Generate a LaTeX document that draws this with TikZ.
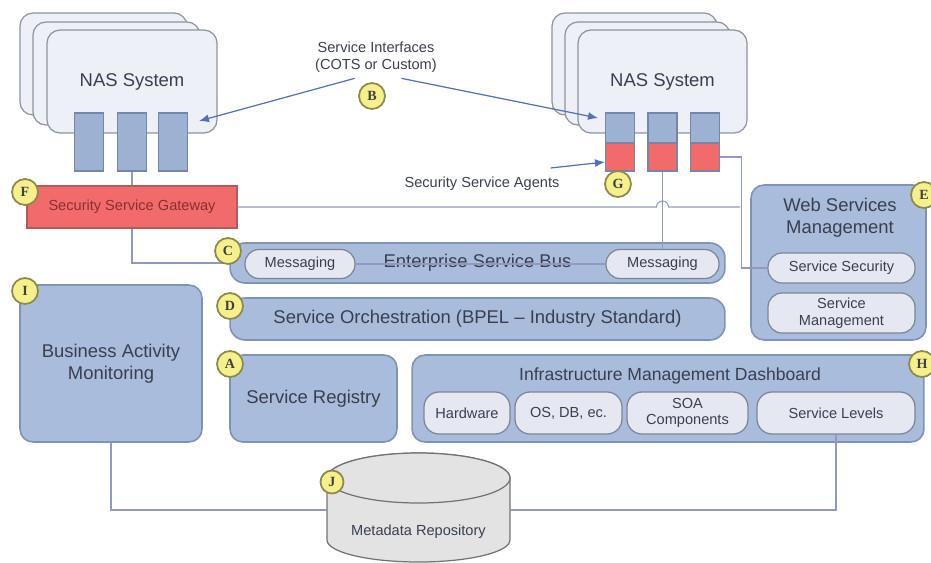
\documentclass[tikz,border=0pt]{standalone}
\usepackage{fontspec}
\setmainfont{Liberation Sans}
\newfontfamily\badgefont{Liberation Serif}
\usetikzlibrary{arrows.meta}

\definecolor{boxblue}{HTML}{A9BCDB}
\definecolor{boxedge}{HTML}{7D93B8}
\definecolor{pillfill}{HTML}{E6E8F1}
\definecolor{pilledge}{HTML}{7B8598}
\definecolor{nasfill}{HTML}{EEF0F7}
\definecolor{nasedge}{HTML}{8E939E}
\definecolor{portblue}{HTML}{9DB2D3}
\definecolor{portedge}{HTML}{7287AB}
\definecolor{secred}{HTML}{F26B6B}
\definecolor{secedge}{HTML}{B35A5A}
\definecolor{secText}{HTML}{8A2E2E}
\definecolor{badgefill}{HTML}{F5F08C}
\definecolor{badgeedge}{HTML}{8C8A48}
\definecolor{wirecol}{HTML}{9098C4}
\definecolor{arrowcol}{HTML}{5570B5}
\definecolor{textgray}{HTML}{3A3F50}
\definecolor{cylfill}{HTML}{E3E3E3}
\definecolor{cyledge}{HTML}{727272}

\begin{document}
\begin{tikzpicture}[>=Latex, x=0.02cm, y=-0.02cm]

% ---------- styles ----------
\tikzset{
  bigtxt/.style={text=textgray, font=\fontsize{10.5}{12.5}\selectfont, align=center},
  smalltxt/.style={text=textgray, font=\fontsize{8.3}{9.5}\selectfont, align=center},
  nasframe/.style={draw=nasedge, fill=nasfill, rounded corners=0.26cm, line width=0.7pt},
  portbox/.style={draw=portedge, fill=portblue, inner sep=0pt, minimum width=0.58cm, line width=0.6pt},
  agentbox/.style={draw=portedge, fill=secred, inner sep=0pt, minimum width=0.58cm, line width=0.6pt},
  bluebox/.style={draw=boxedge, fill=boxblue, rounded corners=0.26cm, inner sep=0pt, line width=0.9pt, bigtxt},
  pill/.style={draw=pilledge, fill=pillfill, rounded corners=0.28cm, inner sep=0pt, line width=0.7pt, smalltxt},
  gwbox/.style={draw=secedge, fill=secred, inner sep=0pt, line width=0.7pt, text=secText,
    font=\fontsize{8.3}{9.5}\selectfont},
  badge/.style={circle, draw=badgeedge, fill=badgefill, line width=1pt, inner sep=0pt,
    minimum size=0.52cm, font=\badgefont\bfseries\fontsize{8}{8}\selectfont, text=black!75},
  wire/.style={draw=wirecol, line width=0.6pt},
  pointer/.style={->, draw=arrowcol, line width=0.7pt, >={Latex[length=2mm,width=1.6mm]}}
}

\useasboundingbox (0,0) rectangle (931,562);

% ---------- NAS systems ----------
\draw[nasframe] (20,13) rectangle (187,115);
\draw[nasframe] (33,22) rectangle (200,125);
\node[nasframe, bigtxt, minimum width=3.4cm, minimum height=2.06cm] (nasL) at (132,81.5) {NAS System};

\draw[nasframe] (552,13) rectangle (717,115);
\draw[nasframe] (565,22) rectangle (730,125);
\node[nasframe, bigtxt, minimum width=3.38cm, minimum height=2.06cm] (nasR) at (662.5,81.5) {NAS System};

% ports
\node[portbox, minimum height=1.16cm] (pL1) at (89,142) {};
\node[portbox, minimum height=1.16cm] (pL2) at (132,142) {};
\node[portbox, minimum height=1.16cm] (pL3) at (173,142) {};

\node[portbox, minimum height=0.6cm] (pR1) at (620,128) {};
\node[portbox, minimum height=0.6cm] (pR2) at (662.5,128) {};
\node[portbox, minimum height=0.6cm] (pR3) at (705,128) {};
\node[agentbox, minimum height=0.56cm] (sR1) at (620,157) {};
\node[agentbox, minimum height=0.56cm] (sR2) at (662.5,157) {};
\node[agentbox, minimum height=0.56cm] (sR3) at (705,157) {};

% ---------- gateway and labels ----------
\node[gwbox, minimum width=4.2cm, minimum height=0.84cm] (gw) at (132,207) {Security Service Gateway};

\node[smalltxt] (sif) at (376,57) {Service Interfaces\\(COTS or Custom)};
\node[smalltxt] (agents) at (482,184) {Security Service Agents};
\coordinate (tipL) at (199,121);
\coordinate (tipR) at (598,118);

% ---------- bus and services ----------
\node[bluebox, rounded corners=0.3cm, minimum width=9.9cm, minimum height=0.8cm] (esb) at (477.5,263) {Enterprise Service Bus};
\node[pill, minimum width=2.2cm, minimum height=0.58cm] (msgL) at (300,264) {Messaging};
\node[pill, minimum width=2.26cm, minimum height=0.58cm] (msgR) at (662.5,264) {Messaging};

\node[bluebox, rounded corners=0.3cm, minimum width=9.9cm, minimum height=0.84cm] (orch) at (477.5,319)
  {Service Orchestration (BPEL – Industry Standard)};

\node[bluebox, minimum width=3.34cm, minimum height=1.74cm] (reg) at (313.5,398.5) {Service Registry};
\node[bluebox, minimum width=3.64cm, minimum height=3.14cm] (bam) at (111,363.5) {Business Activity\\Monitoring};

% infrastructure dashboard
\node[bluebox, minimum width=10.24cm, minimum height=1.74cm] (imd) at (668,398.5) {};
\node[bigtxt, font=\fontsize{10}{12}\selectfont] (imdtitle) at (670,376) {Infrastructure Management Dashboard};
\node[pill, rounded corners=0.3cm, minimum width=1.72cm, minimum height=0.84cm] (hw) at (467,413) {Hardware};
\node[pill, rounded corners=0.3cm, minimum width=2.14cm, minimum height=0.84cm] (os) at (568.5,413) {OS, DB, ec.};
\node[pill, rounded corners=0.3cm, minimum width=2.42cm, minimum height=0.84cm] (soa) at (687.5,413) {SOA\\Components};
\node[pill, rounded corners=0.3cm, minimum width=3.16cm, minimum height=0.84cm] (lvl) at (836,413) {Service Levels};

% web services management
\node[bluebox, minimum width=3.5cm, minimum height=3.1cm] (wsm) at (838.5,262.5) {};
\node[bigtxt] (wsmtitle) at (840,218) {Web Services\\Management};
\node[pill, minimum width=2.94cm, minimum height=0.6cm] (sec) at (841.5,268) {Service Security};
\node[pill, minimum width=2.94cm, minimum height=0.8cm] (mgmt) at (841.5,313) {Service\\Management};

% ---------- metadata repository ----------
\filldraw[draw=cyledge, fill=cylfill, line width=0.7pt]
  (327,478) -- (327,540) arc[start angle=180, end angle=360, x radius=1.83cm, y radius=0.44cm]
  -- (510,478) arc[start angle=0, end angle=180, x radius=1.83cm, y radius=0.5cm] -- cycle;
\draw[draw=cyledge, fill=cylfill, line width=0.7pt] (418.5,478) ellipse [x radius=1.83cm, y radius=0.5cm];
\node[smalltxt] (repo) at (418.5,532) {Metadata Repository};
\coordinate (repoW) at (327,510);
\coordinate (repoE) at (510,510);

% ---------- connectors ----------
\coordinate (tee) at (740,207);
\draw[wire] (pL2.south) -- (gw.north);
\draw[wire] (gw.south) |- (esb.west);
\draw[wire] (gw.east) -- ([xshift=-0.12cm]sR2.south |- gw.east)
  arc[start angle=180, end angle=0, radius=0.12cm] -- (tee);
\draw[wire] (sR3.east) -- ++(21,0) |- (sec.west);
\draw[wire] (sR2.south) -- (sR2.south |- msgR.north);
\draw[wire] (msgL.east) -- (msgR.west);
\draw[wire] (bam.south) |- (repoW);
\draw[wire] (lvl.south) |- (repoE);

\draw[pointer] (sif.225) -- (tipL);
\draw[pointer] (sif.-40) -- (tipR);
\draw[pointer] ([xshift=-0.3cm,yshift=0.06cm]agents.north east) -- ([yshift=-0.1cm]sR1.west);

% ---------- badges ----------
\node[badge] (bA) at (230,364) {A};
\node[badge] (bB) at (372,96) {B};
\node[badge] (bC) at (228,251) {C};
\node[badge] (bD) at (230,306) {D};
\node[badge] (bE) at (924,195) {E};
\node[badge] (bF) at (25,192) {F};
\node[badge] (bG) at (618,184) {G};
\node[badge] (bH) at (922,364) {H};
\node[badge] (bI) at (25,291) {I};
\node[badge, minimum size=0.46cm] (bJ) at (332,482) {J};

\end{tikzpicture}
\end{document}
